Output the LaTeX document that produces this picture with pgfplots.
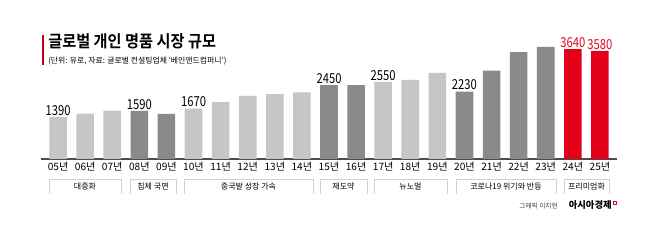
\documentclass[border=0pt]{standalone}
\usepackage{pgfplots}
\pgfplotsset{compat=1.18}
\usepackage{fontspec}
\setmainfont{Noto Sans CJK KR}
\newfontfamily\numfont[FakeStretch=0.82]{Noto Sans CJK KR}
\newfontfamily\titlefont[FakeStretch=0.92]{Noto Sans CJK KR Bold}
\definecolor{lgray}{HTML}{C6C6C6}
\definecolor{dgray}{HTML}{8A8A8A}
\definecolor{myred}{HTML}{E3001B}
\definecolor{axisc}{HTML}{4D4D4D}
\begin{document}
\begin{tikzpicture}[x=0.75pt,y=0.75pt]
\path[use as bounding box,fill=white] (0,0) rectangle (658,249);
\coordinate (A) at (41,90);
% title
\fill[myred!85!black] (41.7,184) rectangle (44.3,214);
\node[anchor=base west,inner sep=0pt,font=\titlefont\fontsize{12.4pt}{13pt}\selectfont] at (48,201) {글로벌 개인 명품 시장 규모};
\node[anchor=base west,inner sep=0pt,font=\fontsize{5.9pt}{6pt}\selectfont] at (48,185) {(단위: 유로, 자료: 글로벌 컨설팅업체 ‘베인앤드컴퍼니’)};
% category boxes
\foreach \a/\b/\t in {49/121/대중화, 130/176/침체 국면, 184/313/중국발 성장 가속, 320/367/재도약, 374/447/뉴노멀, 456/556/코로나19 위기와 반등, 564/609/프리미엄화}{
  \draw[black!18,line width=0.6pt] (\a,55) -- (\a,70) -- (\b,70) -- (\b,55);
  \node[font=\fontsize{6pt}{6pt}\selectfont,inner sep=0pt] at ({(\a+\b)/2},62.5) {\t};
}
% credits
\node[anchor=base east,inner sep=0pt,font=\fontsize{5pt}{5pt}\selectfont,text=black!75] at (558,40) {그래픽 이지현};
\node[anchor=base east,inner sep=0pt,font=\bfseries\fontsize{7pt}{7pt}\selectfont] at (612,40) {아시아경제};
\draw[myred,line width=0.6pt] (613.5,44.5) rectangle (616.5,47.5);
\begin{axis}[
  at={(A)}, anchor=south west,
  scale only axis, width=432pt, height=90.6pt,
  xmin=-0.63, xmax=20.63, ymin=0, ymax=4000,
  clip=false,
  ybar, bar width=0.65, 
  axis y line=none,
  axis x line*=bottom,
  x axis line style={axisc,line width=0.8pt,-},
  xtick={0,...,20}, major tick length=0pt,
  xticklabels={05년,06년,07년,08년,09년,10년,11년,12년,13년,14년,15년,16년,17년,18년,19년,20년,21년,22년,23년,24년,25년},
  xticklabel style={font=\fontsize{7.6pt}{8pt}\selectfont,yshift=1pt},
  every node near coord/.append style={font=\numfont\fontsize{10.3pt}{10pt}\selectfont,inner sep=1pt},
]
\addplot[fill=lgray,draw=none,bar shift=0pt] coordinates {(0,1390)(1,1500)(2,1600)(5,1670)(6,1880)(7,2090)(8,2150)(9,2210)(12,2550)(13,2620)(14,2850)};
\addplot[fill=dgray,draw=none,bar shift=0pt] coordinates {(3,1590)(4,1490)(10,2450)(11,2450)(15,2230)(16,2930)(17,3540)(18,3710)};
\addplot[fill=myred,draw=none,bar shift=0pt] coordinates {(19,3640)(20,3580)};
\addplot[draw=none,fill=none,bar shift=0pt,nodes near coords,point meta=explicit symbolic] coordinates {(0,1390)[1390](3,1590)[1590](5,1670)[1670](10,2450)[2450](12,2550)[2550](15,2230)[2230]};
\addplot[draw=none,fill=none,bar shift=0pt,nodes near coords,point meta=explicit symbolic,every node near coord/.append style={text=myred}] coordinates {(19,3640)[3640](20,3580)[3580]};
\end{axis}
\end{tikzpicture}
\end{document}
